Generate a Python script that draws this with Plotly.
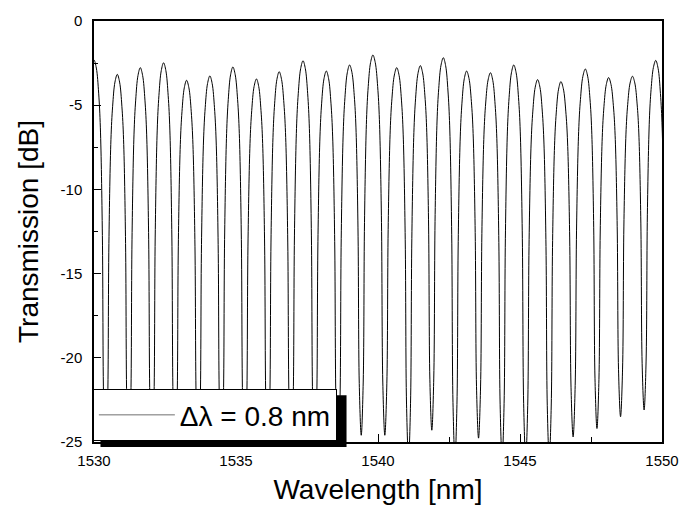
import plotly.graph_objects as go

# Peak positions (nm) and peak transmission (dB)
peak_wl = [1530.00, 1530.82, 1531.63, 1532.45, 1533.26, 1534.08, 1534.89, 1535.72,
           1536.52, 1537.36, 1538.18, 1539.00, 1539.82, 1540.66, 1541.49, 1542.30,
           1543.12, 1543.96, 1544.78, 1545.62, 1546.44, 1547.30, 1548.12, 1548.96,
           1549.78]
peak_db = [-2.32, -3.17, -2.77, -2.48, -3.52, -3.26, -2.73, -3.44,
           -3.01, -2.36, -2.97, -2.61, -2.02, -2.77, -2.65, -2.18,
           -2.97, -3.07, -2.61, -3.48, -3.60, -2.85, -3.36, -3.28,
           -2.34]
# Dip depths (dB): one before the first peak, one between each pair, one after the last
dip_db = [-26.0,
          -26.0, -26.0, -26.0, -26.0, -26.0, -26.0, -26.0, -26.0, -26.0, -26.0, -26.0,
          -24.6, -24.6, -26.0, -24.3, -26.0, -24.77, -26.0, -26.0, -26.0, -24.7, -24.2,
          -23.5, -23.1,
          -26.0]
# Shape of one dip measured on the picture: distance from dip centre (fraction of
# the period) and fraction of the peak-to-dip depth reached there
profile_pos = [0.0, 0.085, 0.14, 0.227, 0.30, 0.40]
profile_frac = [1.0, 0.86, 0.44, 0.17, 0.083, 0.02]

x_tickvals = [1530, 1535, 1540, 1545, 1550]
x_ticktext = ["1530", "1535", "1540", "1545", "1550"]
y_tickvals = [0, -5, -10, -15, -20, -25]
y_ticktext = ["0", "-5", "-10", "-15", "-20", "-25"]

legend_label = "Δλ = 0.8 nm"

period_default = 0.825
xs, ys = [], []
n = len(peak_wl)
for j in range(n + 1):
    if j == 0:
        wl_l, p_l = peak_wl[0] - period_default, peak_db[0]
    else:
        wl_l, p_l = peak_wl[j - 1], peak_db[j - 1]
    if j == n:
        wl_r, p_r = peak_wl[-1] + period_default, peak_db[-1]
    else:
        wl_r, p_r = peak_wl[j], peak_db[j]
    d = dip_db[j]
    c = (wl_l + wl_r) / 2
    per = wl_r - wl_l
    for pos, fr in zip(reversed(profile_pos[1:]), reversed(profile_frac[1:])):
        xs.append(c - pos * per)
        ys.append(p_l - fr * (p_l - d))
    xs.append(c)
    ys.append(d)
    for pos, fr in zip(profile_pos[1:], profile_frac[1:]):
        xs.append(c + pos * per)
        ys.append(p_r - fr * (p_r - d))
    if j < n:
        xs.append(wl_r)
        ys.append(p_r)

fig = go.Figure()
fig.add_trace(go.Scatter(x=xs, y=ys, mode="lines", line=dict(color="black", width=1),
                         line_shape="spline", showlegend=False, hoverinfo="skip"))
fig.add_trace(go.Scatter(x=[None], y=[None], mode="lines",
                         line=dict(color="#707070", width=1), name=legend_label))

font_family = "Liberation Sans, Arial, Helvetica, sans-serif"
fig.update_layout(
    width=691, height=512,
    margin=dict(l=94, r=28, t=19, b=69),
    paper_bgcolor="white", plot_bgcolor="white",
    font=dict(family=font_family, color="black"),
    legend=dict(x=-0.002, y=0.002, xanchor="left", yanchor="bottom",
                bgcolor="white", bordercolor="black", borderwidth=1,
                font=dict(size=28, family=font_family), itemwidth=76),
    shapes=[dict(type="rect", xref="paper", yref="paper",
                 x0=0.0114, x1=0.4446, y0=-0.0118, y1=0.111,
                 fillcolor="black", line=dict(width=0), layer="above")],
)
fig.update_xaxes(range=[1530, 1550], tickvals=x_tickvals, ticktext=x_ticktext,
                 ticks="inside", ticklen=8,
                 tickwidth=1, tickcolor="black", showline=True, linecolor="black",
                 linewidth=1.5, mirror=True, showgrid=False, zeroline=False,
                 tickfont=dict(size=15), ticklabelstandoff=4,
                 minor=dict(dtick=2.5, tick0=1530, ticks="inside", ticklen=5,
                            tickcolor="black", showgrid=False),
                 title=dict(text="Wavelength [nm]", font=dict(size=28), standoff=12))
fig.update_yaxes(range=[-25, 0], tickvals=y_tickvals, ticktext=y_ticktext,
                 ticks="inside", ticklen=7,
                 tickwidth=1, tickcolor="black", showline=True, linecolor="black",
                 linewidth=1.5, mirror=True, showgrid=False, zeroline=False,
                 tickfont=dict(size=15), ticklabelstandoff=7,
                 minor=dict(dtick=2.5, tick0=0, ticks="inside", ticklen=4,
                            tickcolor="black", showgrid=False),
                 title=dict(text="Transmission [dB]", font=dict(size=28), standoff=14))

fig.write_html("out.html")
